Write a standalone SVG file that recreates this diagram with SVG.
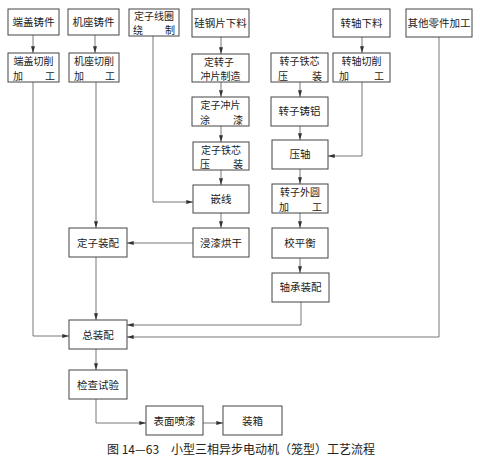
<svg xmlns="http://www.w3.org/2000/svg" width="480" height="458" viewBox="0 0 480 458">
<defs>
<marker id="ar" viewBox="0 0 10 6" refX="10" refY="3" markerWidth="7" markerHeight="4" orient="auto" markerUnits="userSpaceOnUse">
<path d="M0,0 L10,3 L0,6 Z" fill="#333"/>
</marker>
<style>
rect{fill:#fff;stroke:#444;stroke-width:1}
text{font-family:"Noto Sans CJK SC","Noto Sans",sans-serif;font-size:10.5px;fill:#222}
text.t{font-size:10px}
.c{text-anchor:middle}
.e{text-anchor:end}
.s{text-anchor:start}
#edges path{fill:none;stroke:#555;stroke-width:0.8;marker-end:url(#ar)}
</style>
</defs>
<rect x="0" y="0" width="480" height="458" style="fill:#fff;stroke:none"/>
<g id="edges">
<path d="M33,35 V53"/>
<path d="M33,82 V336 H69"/>
<path d="M95,35 V53"/>
<path d="M96,82 V228"/>
<path d="M96,257 V320"/>
<path d="M153,36 V202 H193"/>
<path d="M221,37 V54"/>
<path d="M221,82 V97"/>
<path d="M221,126 V142"/>
<path d="M221,170 V185"/>
<path d="M221,213 V228"/>
<path d="M193,243 H127"/>
<path d="M300,82 V97"/>
<path d="M300,126 V140"/>
<path d="M362,37 V53"/>
<path d="M362,82 V156 H328"/>
<path d="M300,169 V184"/>
<path d="M300,213 V228"/>
<path d="M300,258 V273"/>
<path d="M301,302 V325 H127"/>
<path d="M439,37 V337 H127"/>
<path d="M96,349 V370"/>
<path d="M96,399 V423 H146"/>
<path d="M203,423 H223"/>
</g>
<g id="n1"><rect x="8" y="9" width="51" height="26"/><text class="c" x="33.5" y="26">端盖铸件</text></g>
<g id="n2"><rect x="68" y="9" width="51" height="26"/><text class="c" x="93.5" y="26">机座铸件</text></g>
<g id="n3"><rect x="129" y="9" width="50" height="27"/><text class="t"><tspan class="c" x="154" y="19.5">定子线圈</tspan><tspan class="s" x="133" y="34">绕</tspan><tspan class="e" x="175" y="34">制</tspan></text></g>
<g id="n4"><rect x="192" y="9" width="57" height="28"/><text class="c" x="220.5" y="27">硅钢片下料</text></g>
<g id="n5"><rect x="333" y="9" width="57" height="28"/><text class="c" x="361.5" y="27">转轴下料</text></g>
<g id="n6"><rect x="406" y="9" width="66" height="28"/><text class="c" x="439" y="27">其他零件加工</text></g>
<g id="n7"><rect x="8" y="53" width="51" height="29"/><text class="t"><tspan class="c" x="33.5" y="65">端盖切削</tspan><tspan class="s" x="13" y="79.5">加</tspan><tspan class="e" x="55" y="79.5">工</tspan></text></g>
<g id="n8"><rect x="69" y="53" width="50" height="29"/><text class="t"><tspan class="c" x="94" y="65">机座切削</tspan><tspan class="s" x="74" y="79.5">加</tspan><tspan class="e" x="115" y="79.5">工</tspan></text></g>
<g id="n9"><rect x="192" y="54" width="57" height="28"/><text class="t"><tspan class="c" x="219" y="65.5">定转子</tspan><tspan class="c" x="220.5" y="80">冲片制造</tspan></text></g>
<g id="n10"><rect x="271" y="53" width="57" height="29"/><text class="t"><tspan class="c" x="299.5" y="65">转子铁芯</tspan><tspan class="s" x="278" y="79.5">压</tspan><tspan class="e" x="322" y="79.5">装</tspan></text></g>
<g id="n11"><rect x="333" y="53" width="57" height="29"/><text class="t"><tspan class="c" x="361.5" y="65">转轴切削</tspan><tspan class="s" x="339" y="79.5">加</tspan><tspan class="e" x="384" y="79.5">工</tspan></text></g>
<g id="n12"><rect x="192" y="97" width="57" height="29"/><text class="t"><tspan class="c" x="220.5" y="109">定子冲片</tspan><tspan class="s" x="200" y="123.5">涂</tspan><tspan class="e" x="243" y="123.5">漆</tspan></text></g>
<g id="n13"><rect x="271" y="97" width="57" height="29"/><text class="c" x="299.5" y="115">转子铸铝</text></g>
<g id="n14"><rect x="193" y="142" width="56" height="28"/><text class="t"><tspan class="c" x="221" y="153.5">定子铁芯</tspan><tspan class="s" x="200" y="168">压</tspan><tspan class="e" x="243" y="168">装</tspan></text></g>
<g id="n15"><rect x="272" y="140" width="56" height="29"/><text class="c" x="300" y="158">压轴</text></g>
<g id="n16"><rect x="193" y="185" width="56" height="28"/><text class="c" x="221" y="203">嵌线</text></g>
<g id="n17"><rect x="272" y="184" width="56" height="29"/><text class="t"><tspan class="c" x="300" y="196">转子外圆</tspan><tspan class="s" x="279" y="210.5">加</tspan><tspan class="e" x="322" y="210.5">工</tspan></text></g>
<g id="n18"><rect x="69" y="228" width="58" height="29"/><text class="c" x="98" y="246.5">定子装配</text></g>
<g id="n19"><rect x="193" y="228" width="56" height="29"/><text class="c" x="221" y="246.5">浸漆烘干</text></g>
<g id="n20"><rect x="272" y="228" width="56" height="30"/><text class="c" x="300" y="247">校平衡</text></g>
<g id="n21"><rect x="272" y="273" width="57" height="29"/><text class="c" x="300.5" y="291">轴承装配</text></g>
<g id="n22"><rect x="69" y="320" width="58" height="29"/><text class="c" x="98" y="338.5">总装配</text></g>
<g id="n23"><rect x="69" y="370" width="58" height="29"/><text class="c" x="98" y="388.5">检查试验</text></g>
<g id="n24"><rect x="146" y="406" width="57" height="29"/><text class="c" x="174.5" y="424.5">表面喷漆</text></g>
<g id="n25"><rect x="223" y="406" width="59" height="29"/><text class="c" x="252.5" y="424.5">装箱</text></g>
<text x="107" y="454" style="font-size:12px">图 14—63　小型三相异步电动机（笼型）工艺流程</text>
</svg>
